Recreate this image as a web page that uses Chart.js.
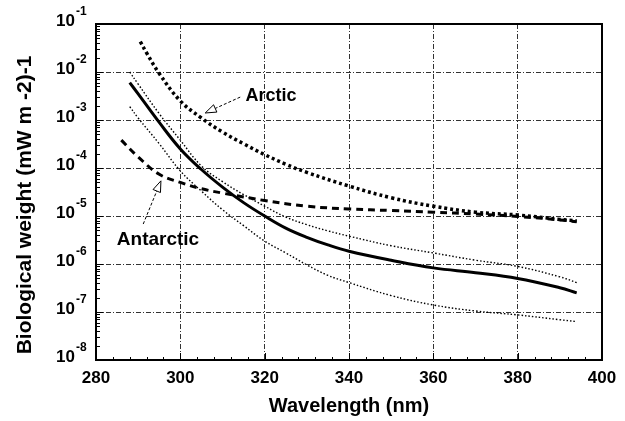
<!DOCTYPE html>
<html>
<head>
<meta charset="utf-8">
<script src="https://cdn.jsdelivr.net/npm/chart.js@4"></script>
<style>
html, body { margin: 0; padding: 0; background: #fff; }
</style>
</head>
<body>
<canvas id="uvChart" width="625" height="421"></canvas>
<script>
// values (wavelength in nm, weight in (mW m-2)-1)
var wlMain = [288, 290, 295, 300, 305, 310, 315, 320, 325, 330, 335, 340, 350, 360, 370, 380, 390, 394];
var meanCurve = [6.0e-3, 3.5e-3, 8.9e-4, 2.5e-4, 9.3e-5, 4.0e-5, 1.9e-5, 1.0e-5, 5.6e-6, 3.6e-6, 2.5e-6, 1.85e-6, 1.2e-6, 8.3e-7, 6.6e-7, 5.0e-7, 3.2e-7, 2.5e-7];
var upperCurve = [1.0e-2, 5.6e-3, 1.35e-3, 3.8e-4, 1.1e-4, 5.2e-5, 2.8e-5, 1.6e-5, 9.5e-6, 6.6e-6, 4.9e-6, 3.8e-6, 2.4e-6, 1.7e-6, 1.2e-6, 8.9e-7, 5.4e-7, 4.1e-7];
var lowerCurve = [1.9e-3, 1.1e-3, 3.2e-4, 8.7e-5, 3.3e-5, 1.35e-5, 6.3e-6, 3.0e-6, 1.7e-6, 9.6e-7, 5.8e-7, 4.1e-7, 2.2e-7, 1.4e-7, 1.05e-7, 8.7e-8, 6.9e-8, 6.3e-8];

var wlArctic = [290.5, 292, 295, 300, 305, 310, 315, 320, 325, 330, 340, 350, 360, 370, 380, 390, 394];
var arcticCurve = [4.3e-2, 2.5e-2, 9.3e-3, 2.5e-3, 1.1e-3, 5.6e-4, 3.2e-4, 1.9e-4, 1.2e-4, 8.1e-5, 4.2e-5, 2.4e-5, 1.6e-5, 1.2e-5, 1.05e-5, 8.5e-6, 7.9e-6];

var wlAntarctic = [286, 290, 295, 300, 305, 310, 315, 320, 330, 340, 350, 360, 370, 380, 390, 394];
var antarcticCurve = [3.8e-4, 1.7e-4, 7.4e-5, 5.0e-5, 3.7e-5, 3.0e-5, 2.5e-5, 2.1e-5, 1.6e-5, 1.4e-5, 1.3e-5, 1.2e-5, 1.1e-5, 9.8e-6, 8.3e-6, 7.6e-6];

var yTickValues = [1e-8, 1e-7, 1e-6, 1e-5, 1e-4, 1e-3, 1e-2, 1e-1];
var yTickExponents = ['-8', '-7', '-6', '-5', '-4', '-3', '-2', '-1'];
var yTitle = 'Biological weight (mW m -2)-1';

// annotation labels with arrows, placed in data units
var notes = [
    { text: 'Arctic', x: 321.5, y: 3.2e-3, tailX: 314.2, tailY: 3.0e-3, tipX: 305.9, tipY: 1.4e-3, size: 18 },
    { text: 'Antarctic', x: 294.7, y: 3.2e-6, tailX: 291.2, tailY: 6.8e-6, tipX: 295.4, tipY: 5.4e-5, size: 19 }
];

var FONT = '"Liberation Sans", Arial, sans-serif';

function pts(xs, ys) {
    return xs.map(function (x, i) { return { x: x, y: ys[i] }; });
}

function drawArrow(ctx, x1, y1, x2, y2) {
    var ang = Math.atan2(y2 - y1, x2 - x1);
    var len = 11, half = 4;
    var bx = x2 - len * Math.cos(ang), by = y2 - len * Math.sin(ang);
    ctx.strokeStyle = '#000';
    ctx.lineWidth = 1;
    ctx.setLineDash([3, 2]);
    ctx.beginPath();
    ctx.moveTo(x1, y1);
    ctx.lineTo(bx, by);
    ctx.stroke();
    ctx.setLineDash([]);
    ctx.beginPath();
    ctx.moveTo(x2, y2);
    ctx.lineTo(bx + half * Math.sin(ang), by - half * Math.cos(ang));
    ctx.lineTo(bx - half * Math.sin(ang), by + half * Math.cos(ang));
    ctx.closePath();
    ctx.fillStyle = '#fff';
    ctx.fill();
    ctx.stroke();
}

var extras = {
    id: 'extras',
    afterDatasetsDraw: function (chart) {
        var ctx = chart.ctx, area = chart.chartArea;
        var xs = chart.scales.x, ys = chart.scales.y;
        ctx.save();

        // frame
        ctx.strokeStyle = '#000';
        ctx.lineWidth = 2;
        ctx.setLineDash([]);
        ctx.strokeRect(area.left, area.top, area.right - area.left, area.bottom - area.top);

        // inward ticks on x axis
        ctx.lineWidth = 1;
        ctx.beginPath();
        for (var w = 280; w <= 400; w += 4) {
            var px = Math.round(xs.getPixelForValue(w)) + 0.5;
            var major = (w % 20 === 0);
            ctx.moveTo(px, area.bottom);
            ctx.lineTo(px, area.bottom - (major ? 7 : 3));
        }
        // inward ticks on y axis (decades and minor 2..9)
        for (var e = 0; e < yTickValues.length; e++) {
            var dec = yTickValues[e];
            for (var m = 1; m <= 9; m++) {
                var v = dec * m;
                if (v > ys.max * 1.0001) break;
                var py = Math.round(ys.getPixelForValue(v)) + 0.5;
                ctx.moveTo(area.left, py);
                ctx.lineTo(area.left + (m === 1 ? 7 : 4), py);
            }
        }
        ctx.stroke();

        // y tick labels with superscript exponent
        ctx.fillStyle = '#000';
        yTickValues.forEach(function (v, i) {
            var py = ys.getPixelForValue(v);
            var rx = area.left - 21;
            ctx.font = 'bold 17px ' + FONT;
            ctx.textAlign = 'right';
            ctx.textBaseline = 'middle';
            ctx.fillText('10', rx, py - 3);
            ctx.font = 'bold 12px ' + FONT;
            ctx.textAlign = 'left';
            ctx.fillText(yTickExponents[i], rx + 1, py - 12);
        });

        // y axis title
        ctx.save();
        ctx.translate(25, (area.top + area.bottom) / 2 + 13);
        ctx.rotate(-Math.PI / 2);
        ctx.font = 'bold 21px ' + FONT;
        ctx.textAlign = 'center';
        ctx.textBaseline = 'middle';
        ctx.fillText(yTitle, 0, 0);
        ctx.restore();

        // annotations
        notes.forEach(function (n) {
            drawArrow(ctx, xs.getPixelForValue(n.tailX), ys.getPixelForValue(n.tailY),
                xs.getPixelForValue(n.tipX), ys.getPixelForValue(n.tipY));
            ctx.font = 'bold ' + n.size + 'px ' + FONT;
            ctx.textAlign = 'center';
            ctx.textBaseline = 'middle';
            ctx.fillStyle = '#000';
            ctx.fillText(n.text, xs.getPixelForValue(n.x), ys.getPixelForValue(n.y));
        });

        ctx.restore();
    }
};

var lineBase = { pointRadius: 0, fill: false, tension: 0.4, borderColor: '#000' };

var uvChart = new Chart(document.getElementById('uvChart'), {
    type: 'line',
    data: {
        datasets: [
            Object.assign({ label: 'mean', data: pts(wlMain, meanCurve), borderWidth: 3 }, lineBase),
            Object.assign({ label: 'upper', data: pts(wlMain, upperCurve), borderWidth: 1.4, borderDash: [1.5, 2] }, lineBase),
            Object.assign({ label: 'lower', data: pts(wlMain, lowerCurve), borderWidth: 1.4, borderDash: [1.5, 2] }, lineBase),
            Object.assign({ label: 'Arctic', data: pts(wlArctic, arcticCurve), borderWidth: 3.5, borderDash: [3, 3] }, lineBase),
            Object.assign({ label: 'Antarctic', data: pts(wlAntarctic, antarcticCurve), borderWidth: 3, borderDash: [7, 5] }, lineBase)
        ]
    },
    options: {
        responsive: false,
        animation: false,
        devicePixelRatio: 1,
        layout: { padding: { top: 24, right: 23, left: 0, bottom: 0 } },
        plugins: { legend: { display: false }, tooltip: { enabled: false } },
        scales: {
            x: {
                type: 'linear',
                min: 280,
                max: 400,
                ticks: {
                    stepSize: 20,
                    maxRotation: 0,
                    padding: 8,
                    color: '#000',
                    font: { family: FONT, size: 17, weight: 'bold' }
                },
                grid: {
                    drawTicks: false,
                    lineWidth: 1,
                    color: function (c) {
                        if (c.tick && (c.tick.value === 280 || c.tick.value === 400)) return 'rgba(0,0,0,0)';
                        return '#333';
                    }
                },
                border: { display: false, dash: [5, 2, 1, 2] },
                title: {
                    display: true,
                    text: 'Wavelength (nm)',
                    color: '#000',
                    font: { family: FONT, size: 20, weight: 'bold' },
                    padding: { top: 4, bottom: 3 }
                },
                afterFit: function (s) { s.height = 61; }
            },
            y: {
                type: 'logarithmic',
                min: 1e-8,
                max: 1e-1,
                afterBuildTicks: function (s) {
                    s.ticks = yTickValues.map(function (v) { return { value: v }; });
                },
                ticks: { display: false },
                grid: { drawTicks: false, lineWidth: 1, color: '#333' },
                border: { display: false, dash: [5, 2, 1, 2] },
                afterFit: function (s) { s.width = 96; }
            }
        }
    },
    plugins: [extras]
});
</script>
</body>
</html>
